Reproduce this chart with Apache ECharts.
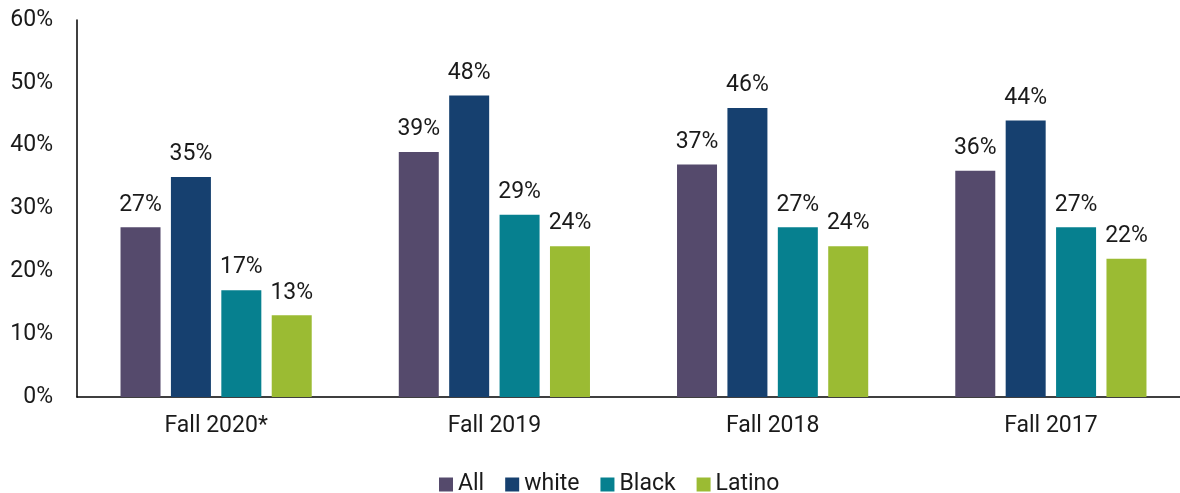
<!DOCTYPE html>
<html>
<head>
<meta charset="utf-8">
<script src="https://cdn.jsdelivr.net/npm/echarts@6/dist/echarts.min.js"></script>
<style>
html, body { margin: 0; padding: 0; background: #fff; }
#chart { width: 1180px; height: 493px; }
</style>
</head>
<body>
<div id="chart"></div>
<script>
const categories = ['Fall 2020*', 'Fall 2019', 'Fall 2018', 'Fall 2017'];
const allValues = [27, 39, 37, 36];
const whiteValues = [35, 48, 46, 44];
const blackValues = [17, 29, 27, 27];
const latinoValues = [13, 24, 24, 22];
const seriesNames = ['All', 'white', 'Black', 'Latino'];
const colors = ['#554A6C', '#16406F', '#06808F', '#9BBB33'];

const font = 'Roboto, "Liberation Sans", sans-serif';

function makeSeries(name, data, color) {
    return {
        name: name,
        type: 'bar',
        data: data,
        barWidth: 40,
        barGap: '26%',
        itemStyle: { color: color },
        label: {
            show: true,
            position: 'top',
            distance: 11,
            color: '#1a1a1a',
            fontFamily: font,
            fontSize: 23,
            formatter: '{c}%'
        }
    };
}

var myChart = echarts.init(document.getElementById('chart'));
var option = {
    animation: false,
    textStyle: { fontFamily: font },
    legend: {
        data: seriesNames,
        left: 434,
        top: 468,
        itemWidth: 14,
        itemHeight: 14,
        itemGap: 21,
        icon: 'rect',
        textStyle: { fontSize: 23, color: '#1a1a1a', fontFamily: font }
    },
    grid: {
        left: 77,
        top: 20,
        width: 1113,
        height: 377,
        outerBoundsMode: 'none'
    },
    xAxis: {
        type: 'category',
        data: categories,
        axisLine: { lineStyle: { color: '#000', width: 1.5 } },
        axisTick: { show: false },
        axisLabel: { fontSize: 23, color: '#1a1a1a', margin: 18, fontFamily: font }
    },
    yAxis: {
        type: 'value',
        min: 0,
        max: 60,
        interval: 10,
        axisLine: { show: true, lineStyle: { color: '#000', width: 1.5 } },
        axisTick: { show: false },
        splitLine: { show: false },
        axisLabel: { fontSize: 23, color: '#1a1a1a', margin: 24, formatter: '{value}%', fontFamily: font }
    },
    series: [
        makeSeries(seriesNames[0], allValues, colors[0]),
        makeSeries(seriesNames[1], whiteValues, colors[1]),
        makeSeries(seriesNames[2], blackValues, colors[2]),
        makeSeries(seriesNames[3], latinoValues, colors[3])
    ]
};
myChart.setOption(option);
</script>
</body>
</html>
